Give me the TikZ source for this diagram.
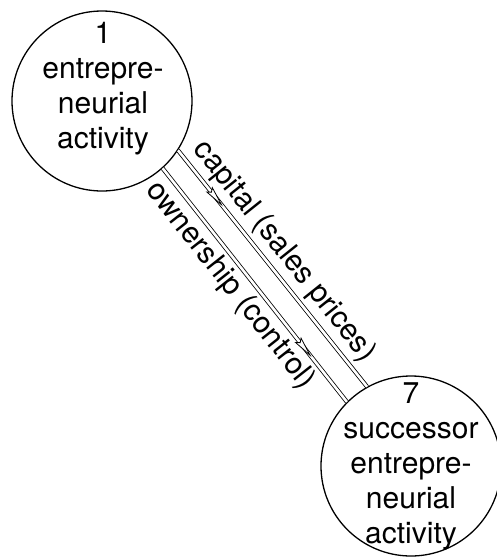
\documentclass[tikz,border=0pt]{standalone}
\usepackage{fontspec}
\setmainfont{TeX Gyre Heros}
\usetikzlibrary{decorations.markings}

\tikzset{
    activity/.style={draw, circle, line width=1.3pt, minimum size=180pt, inner sep=0pt},
    words/.style={align=center, anchor=north, font=\fontsize{30}{35}\selectfont, inner sep=0pt},
    flow/.style={double, double distance=2.6pt, line width=0.8pt},
    tag/.style={font=\fontsize{30}{36}\selectfont, sloped, inner sep=5pt},
    spindle/.style={decorate, decoration={markings, mark=at position #1 with {
        \draw[line width=0.8pt, fill=white] (-10pt,-3.5pt) -- (9pt,0pt) -- (-10pt,3.5pt) -- (-7pt,0pt) -- cycle;}}},
}

\begin{document}
\begin{tikzpicture}[x=1pt, y=-1pt]
    \useasboundingbox (0,0) rectangle (497,558);

    % the two activities
    \node[activity] (a1) at (102,101) {};
    \node[words] (t1) at (103,22) {1\\entrepre-\\neurial\\activity};
    \node[activity] (a7) at (411,466) {};
    \node[words] (t7) at (411,382) {7\\successor\\entrepre-\\neurial\\activity};

    % capital and ownership between them
    \draw[flow, postaction={spindle=0.2}]
        (a1.-33) -- node[tag, above, pos=0.48] {capital (sales prices)} (a7.119);
    \draw[flow, postaction={spindle=0.77}]
        (a1.-48) -- node[tag, below, pos=0.45] {ownership (control)} (a7.135);
\end{tikzpicture}
\end{document}
